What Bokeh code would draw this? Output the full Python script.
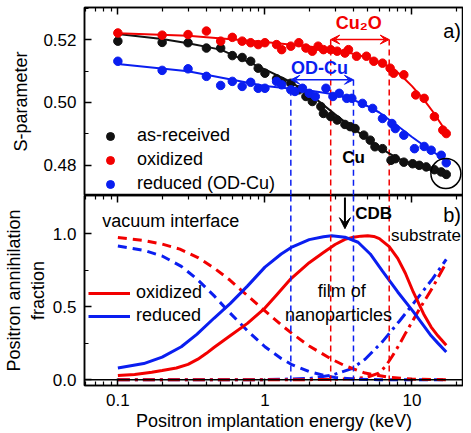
from bokeh.plotting import figure
from bokeh.layouts import column
from bokeh.models import (Range1d, LogAxis, FixedTicker, Span, Arrow, VeeHead, Label,
                          Whisker, TeeHead, ColumnDataSource, CustomJSTickFormatter,
                          NumeralTickFormatter, Legend, LegendItem)
from bokeh.embed import file_html
from bokeh.resources import INLINE

FONT = "Liberation Sans"
RED = "#f20000"
BLUE = "#0a1ef0"
BLACK = "#111111"

# ---------------- data: S-parameter (top panel) ----------------
E_ar = [0.1, 0.2, 0.3, 0.4, 0.5, 0.6, 0.7, 0.8, 0.9, 1.0, 1.2, 1.3, 1.5, 1.7, 1.9, 2.1, 2.4, 2.5,
        2.8, 3.1, 3.5, 3.8, 4.1, 4.7, 5.2, 5.6, 6.3, 7.2, 7.7, 8.8, 10.1, 11.2, 12.5, 14.2, 15.8, 17.1]
S_ar = [0.5195, 0.5191, 0.5190, 0.5173, 0.5173, 0.5149, 0.5143, 0.5131, 0.5109, 0.5093, 0.5075,
        0.5067, 0.5061, 0.5040, 0.5019, 0.5003, 0.4987, 0.4965, 0.4955, 0.4944, 0.4930, 0.4923,
        0.4917, 0.4896, 0.4880, 0.4859, 0.4853, 0.4816, 0.4821, 0.4810, 0.4805, 0.4800, 0.4795,
        0.4786, 0.4779, 0.4771]

E_ox = [0.1, 0.2, 0.3, 0.4, 0.5, 0.6, 0.7, 0.8, 0.9, 1.0, 1.2, 1.3, 1.5, 1.7, 1.9, 2.1, 2.3, 2.5,
        2.8, 3.1, 3.5, 3.7, 4.2, 4.9, 5.5, 6.3, 7.1, 7.5, 8.8, 10.6, 12.1, 14.2, 16.2, 17.1]
S_ox = [0.5221, 0.5214, 0.5216, 0.5227, 0.5195, 0.5207, 0.5195, 0.5190, 0.5184, 0.5190, 0.5184,
        0.5168, 0.5179, 0.5190, 0.5173, 0.5163, 0.5179, 0.5168, 0.5168, 0.5163, 0.5157, 0.5168,
        0.5147, 0.5147, 0.5131, 0.5125, 0.5109, 0.5093, 0.5088, 0.5024, 0.5013, 0.4955, 0.4912,
        0.4901]

E_rd = [0.1, 0.2, 0.3, 0.4, 0.5, 0.6, 0.7, 0.8, 0.9, 1.0, 1.2, 1.3, 1.5, 1.6, 1.8, 2.0, 2.2, 2.6,
        2.9, 3.2, 3.6, 3.9, 4.6, 5.4, 6.3, 7.3, 7.7, 8.8, 10.4, 12.1, 13.5, 15.8, 17.1]
S_rd = [0.5131, 0.5102, 0.5107, 0.5083, 0.5054, 0.5067, 0.5051, 0.5064, 0.5045, 0.5045, 0.5067,
        0.5056, 0.5040, 0.5035, 0.5045, 0.5029, 0.5019, 0.5045, 0.5019, 0.5029, 0.5013, 0.5013,
        0.4997, 0.4981, 0.4949, 0.4933, 0.4917, 0.4896, 0.4853, 0.4860, 0.4848, 0.4832, 0.4808]

S_err = 0.0006

# fitted curves
fitE_ar = [0.1, 0.2, 0.3, 0.5, 1.0, 1.5, 2.0, 3.0, 4.0, 6.0, 8.0, 10.0, 13.0, 17.1]
fitS_ar = [0.5218, 0.5202, 0.5188, 0.5168, 0.5105, 0.5065, 0.5028, 0.4962, 0.4917, 0.4856,
           0.4822, 0.4805, 0.4787, 0.4773]
fitE_ox = [0.1, 0.3, 1.0, 2.0, 3.0, 4.0, 5.0, 6.0, 7.0, 8.0, 9.0, 10.0, 12.0, 14.0, 17.1]
fitS_ox = [0.5220, 0.5212, 0.5192, 0.5178, 0.5167, 0.5155, 0.5142, 0.5128, 0.5113, 0.5095,
           0.5073, 0.5052, 0.5010, 0.4968, 0.4907]
fitE_rd = [0.1, 0.3, 0.6, 1.0, 2.0, 3.0, 4.0, 5.0, 6.0, 8.0, 10.0, 13.0, 17.1]
fitS_rd = [0.5122, 0.5099, 0.5072, 0.5052, 0.5038, 0.5025, 0.5008, 0.4988, 0.4968, 0.4925,
           0.4890, 0.4852, 0.4816]

# ---------------- data: annihilation fractions (bottom panel) ----------------
E_ox_film = [0.1, 0.13, 0.17, 0.2, 0.25, 0.3, 0.35, 0.4, 0.45, 0.58, 0.76, 1.0, 1.2, 1.5, 2.0,
             2.5, 3.0, 3.5, 4.0, 4.5, 5.0, 5.5, 6.0, 7.0, 8.0, 9.0, 10.2, 12.0, 13.5, 15.0, 17.1]
F_ox_film = [0.028, 0.036, 0.05, 0.062, 0.08, 0.105, 0.14, 0.18, 0.22, 0.30, 0.385, 0.49, 0.58,
             0.69, 0.80, 0.87, 0.925, 0.96, 0.975, 0.982, 0.985, 0.98, 0.965, 0.91, 0.83, 0.73,
             0.60, 0.45, 0.36, 0.30, 0.235]
E_rd_film = [0.1, 0.15, 0.2, 0.27, 0.344, 0.45, 0.58, 0.76, 1.0, 1.29, 1.51, 2.0, 2.5, 2.84, 3.5,
             4.3, 5.2, 6.3, 8.0, 10.2, 12.0, 13.5, 15.0, 17.1]
F_rd_film = [0.08, 0.11, 0.154, 0.225, 0.31, 0.42, 0.52, 0.64, 0.77, 0.86, 0.905, 0.958, 0.978,
             0.984, 0.975, 0.94, 0.86, 0.742, 0.60, 0.465, 0.37, 0.30, 0.25, 0.189]
E_ox_vac = [0.1, 0.15, 0.2, 0.264, 0.35, 0.45, 0.58, 0.76, 1.0, 1.29, 1.51, 2.0, 2.84, 3.5,
            4.8, 6.96, 10.0, 17.1]
F_ox_vac = [0.972, 0.952, 0.928, 0.893, 0.835, 0.765, 0.68, 0.575, 0.47, 0.375, 0.32, 0.23,
            0.14, 0.095, 0.045, 0.016, 0.004, 0.0]
E_rd_vac = [0.1, 0.15, 0.2, 0.27, 0.344, 0.45, 0.58, 0.76, 1.0, 1.29, 1.51, 2.0, 2.56, 3.0,
            4.0, 6.0, 17.1]
F_rd_vac = [0.915, 0.885, 0.846, 0.775, 0.69, 0.575, 0.455, 0.335, 0.225, 0.145, 0.105, 0.055,
            0.028, 0.015, 0.004, 0.0, 0.0]
E_ox_sub = [0.1, 1.0, 2.0, 3.0, 4.0, 5.0, 5.95, 6.6, 7.34, 8.2, 9.06, 11.2, 13.8, 17.1]
F_ox_sub = [0.0, 0.0, 0.0, 0.002, 0.006, 0.018, 0.045, 0.09, 0.16, 0.24, 0.32, 0.48, 0.63, 0.80]
E_rd_sub = [0.1, 1.0, 2.0, 2.84, 3.9, 4.8, 6.3, 8.2, 10.2, 13.8, 17.1]
F_rd_sub = [0.0, 0.0, 0.008, 0.03, 0.075, 0.14, 0.26, 0.40, 0.52, 0.69, 0.823]

# region markers
od_cu_E = [1.5, 4.0]
cu2o_E = [2.8, 7.0]
cdb_E = [3.5]
circle_E = [17.0]
circle_S = [0.4774]

x_major = [0.1, 1, 10]
x_minor = [0.06, 0.07, 0.08, 0.09, 0.2, 0.3, 0.4, 0.5, 0.6, 0.7, 0.8, 0.9,
           2, 3, 4, 5, 6, 7, 8, 9, 20]

XR = Range1d(0.0593, 22.4)


def style_axis(ax, labels=True, size="17px"):
    ax.major_tick_in = 7
    ax.major_tick_out = 0
    ax.minor_tick_in = 4
    ax.minor_tick_out = 0
    ax.axis_line_color = "black"
    ax.axis_line_width = 1.5
    ax.major_tick_line_width = 1.5
    ax.minor_tick_line_width = 1.2
    ax.major_label_text_font = FONT
    ax.major_label_text_color = "black"
    ax.axis_label_text_font = FONT
    ax.axis_label_text_font_style = "normal"
    ax.axis_label_text_font_size = "18px"
    ax.axis_label_text_color = "black"
    if labels:
        ax.major_label_text_font_size = size
    else:
        ax.major_label_text_font_size = "1px"
        ax.major_label_text_alpha = 0
        ax.major_label_standoff = 0


# ---------------- top panel ----------------
p1 = figure(width=463, height=195, x_axis_type="log", x_range=XR,
            y_range=Range1d(0.4704, 0.5302), x_axis_location="above",
            output_backend="svg", toolbar_location=None,
            min_border_left=78, min_border_right=0, min_border_top=7, min_border_bottom=0)
p1.grid.visible = False
p1.outline_line_color = "black"
p1.outline_line_width = 1.5
p1.xaxis.ticker = FixedTicker(ticks=x_major, minor_ticks=x_minor)
style_axis(p1.xaxis[0], labels=False)
p1.yaxis.ticker = FixedTicker(ticks=[0.48, 0.50, 0.52], minor_ticks=[0.47, 0.49, 0.51, 0.53])
p1.yaxis.formatter = NumeralTickFormatter(format="0.00")
style_axis(p1.yaxis[0])
p1.yaxis.major_label_standoff = 8
p1.yaxis.axis_label = "S-parameter"
p1.yaxis.axis_label_standoff = 9

# vertical dashed markers in top panel
p1.segment(x0=od_cu_E, y0=[0.5072] * 2, x1=od_cu_E, y1=[0.46] * 2,
           line_color=BLUE, line_dash="6 4", line_width=1.5)
p1.segment(x0=cu2o_E, y0=[0.5200] * 2, x1=cu2o_E, y1=[0.46] * 2,
           line_color=RED, line_dash="6 4", line_width=1.5)

renderers = {}
for E, S, fE, fS, col, name in [(E_ar, S_ar, fitE_ar, fitS_ar, BLACK, "as-received"),
                                (E_ox, S_ox, fitE_ox, fitS_ox, RED, "oxidized"),
                                (E_rd, S_rd, fitE_rd, fitS_rd, BLUE, "reduced (OD-Cu)")]:
    src = ColumnDataSource(dict(E=E, S=S, lo=[s - S_err for s in S], hi=[s + S_err for s in S]))
    p1.line(fE, fS, line_color=col, line_width=2)
    p1.add_layout(Whisker(source=src, base="E", lower="lo", upper="hi", line_color=col,
                          line_width=1.2, upper_head=TeeHead(size=6, line_color=col),
                          lower_head=TeeHead(size=6, line_color=col)))
    renderers[name] = p1.scatter("E", "S", source=src, size=8.5, fill_color=col,
                                 line_color=col, line_width=1)

leg1 = Legend(items=[LegendItem(label=k, renderers=[v]) for k, v in renderers.items()],
              location=(16, 1), padding=0, margin=0, spacing=3, glyph_width=20,
              glyph_height=20, label_height=20, label_standoff=17,
              label_text_font=FONT, label_text_font_size="18px", label_text_color="black",
              background_fill_alpha=0, border_line_alpha=0)
p1.add_layout(leg1)

p1.add_layout(Arrow(start=VeeHead(size=9, fill_color=BLUE, line_color=BLUE),
                    end=VeeHead(size=9, fill_color=BLUE, line_color=BLUE),
                    x_start=od_cu_E[0], y_start=0.5072, x_end=od_cu_E[1], y_end=0.5072,
                    line_color=BLUE, line_width=1.5))
p1.add_layout(Arrow(start=VeeHead(size=9, fill_color=RED, line_color=RED),
                    end=VeeHead(size=9, fill_color=RED, line_color=RED),
                    x_start=cu2o_E[0], y_start=0.5200, x_end=cu2o_E[1], y_end=0.5200,
                    line_color=RED, line_width=1.5))

p1.add_layout(Label(x=2.35, y=0.51104, text="OD-Cu", text_align="center",
                    text_baseline="middle", text_font=FONT, text_font_size="18px",
                    text_font_style="bold", text_color=BLUE))
p1.add_layout(Label(x=4.34, y=0.52540, text="Cu\u2082O", text_align="center",
                    text_baseline="middle", text_font=FONT, text_font_size="18px",
                    text_font_style="bold", text_color=RED))
p1.add_layout(Label(x=4.0, y=0.48256, text="Cu", text_align="center",
                    text_baseline="middle", text_font=FONT, text_font_size="17px",
                    text_font_style="bold", text_color="black"))
p1.add_layout(Label(x=16.3, y=0.52266, text="a)", text_align="left",
                    text_baseline="middle", text_font=FONT, text_font_size="20px",
                    text_color="black"))
p1.circle(x=circle_E, y=circle_S, radius=15, radius_units="screen",
          fill_color=None, line_color="black", line_width=1.5)

# ---------------- bottom panel ----------------
p2 = figure(width=463, height=238, x_axis_type="log", x_range=XR,
            y_range=Range1d(-0.04, 1.26), output_backend="svg", toolbar_location=None,
            min_border_left=78, min_border_right=0, min_border_top=0, min_border_bottom=0)
p2.grid.visible = False
p2.outline_line_color = "black"
p2.outline_line_width = 1.5
p2.xaxis.ticker = FixedTicker(ticks=x_major, minor_ticks=x_minor)
p2.xaxis.formatter = CustomJSTickFormatter(code="return tick.toString();")
style_axis(p2.xaxis[0])
p2.xaxis.major_label_standoff = 8
p2.xaxis.axis_label = "Positron implantation energy (keV)"
p2.xaxis.axis_label_standoff = 2
top_ax = LogAxis(ticker=FixedTicker(ticks=x_major, minor_ticks=x_minor))
style_axis(top_ax, labels=False)
p2.add_layout(top_ax, "above")
p2.yaxis.ticker = FixedTicker(ticks=[0.0, 0.5, 1.0], minor_ticks=[0.25, 0.75])
p2.yaxis.formatter = NumeralTickFormatter(format="0.0")
style_axis(p2.yaxis[0])
p2.yaxis.major_label_standoff = 8
p2.yaxis.axis_label = "Positron annihilation\nfraction"
p2.yaxis.axis_label_standoff = 2

for e in od_cu_E:
    p2.add_layout(Span(location=e, dimension="height", line_color=BLUE,
                       line_dash="6 4", line_width=1.5))
for e in cu2o_E:
    p2.add_layout(Span(location=e, dimension="height", line_color=RED,
                       line_dash="6 4", line_width=1.5))
p2.add_layout(Span(location=0, dimension="width", line_color="black", line_width=1.5))

p2.line(E_rd_sub, F_rd_sub, line_color=BLUE, line_width=3, line_dash="12 5 3 5")
p2.line(E_ox_sub, F_ox_sub, line_color=RED, line_width=3, line_dash="12 5 3 5")
p2.line(E_rd_vac, F_rd_vac, line_color=BLUE, line_width=3, line_dash="9 6")
p2.line(E_ox_vac, F_ox_vac, line_color=RED, line_width=3, line_dash="9 6")
r_ox = p2.line(E_ox_film, F_ox_film, line_color=RED, line_width=3)
r_rd = p2.line(E_rd_film, F_rd_film, line_color=BLUE, line_width=3)

leg2 = Legend(items=[LegendItem(label="oxidized", renderers=[r_ox]),
                     LegendItem(label="reduced", renderers=[r_rd])],
              location=(4, 59), padding=0, margin=0, spacing=2, glyph_width=42,
              glyph_height=20, label_height=20, label_standoff=6,
              label_text_font=FONT, label_text_font_size="18px", label_text_color="black",
              background_fill_alpha=0, border_line_alpha=0)
p2.add_layout(leg2)

p2.add_layout(Arrow(end=VeeHead(size=11, fill_color="black", line_color="black"),
                    x_start=cdb_E[0], y_start=1.247, x_end=cdb_E[0], y_end=1.033,
                    line_color="black", line_width=2))
p2.add_layout(Label(x=4.11, y=1.134, text="CDB", text_align="left", text_baseline="middle",
                    text_font=FONT, text_font_size="17px", text_font_style="bold",
                    text_color="black"))
p2.add_layout(Label(x=16.3, y=1.129, text="b)", text_align="left", text_baseline="middle",
                    text_font=FONT, text_font_size="20px", text_color="black"))
p2.add_layout(Label(x=7.2, y=0.984, text="substrate", text_align="left",
                    text_baseline="middle", text_font=FONT, text_font_size="17px",
                    text_color="black"))
p2.add_layout(Label(x=0.0782, y=1.088, text="vacuum interface", text_align="left",
                    text_baseline="middle", text_font=FONT, text_font_size="18px",
                    text_color="black"))
p2.add_layout(Label(x=3.33, y=0.604, text="film of", text_align="center",
                    text_baseline="middle", text_font=FONT, text_font_size="18px",
                    text_color="black"))
p2.add_layout(Label(x=3.16, y=0.443, text="nanoparticles", text_align="center",
                    text_baseline="middle", text_font=FONT, text_font_size="18px",
                    text_color="black"))

layout = column(p1, p2, spacing=0)
open("out.html", "w").write(file_html(layout, INLINE))
